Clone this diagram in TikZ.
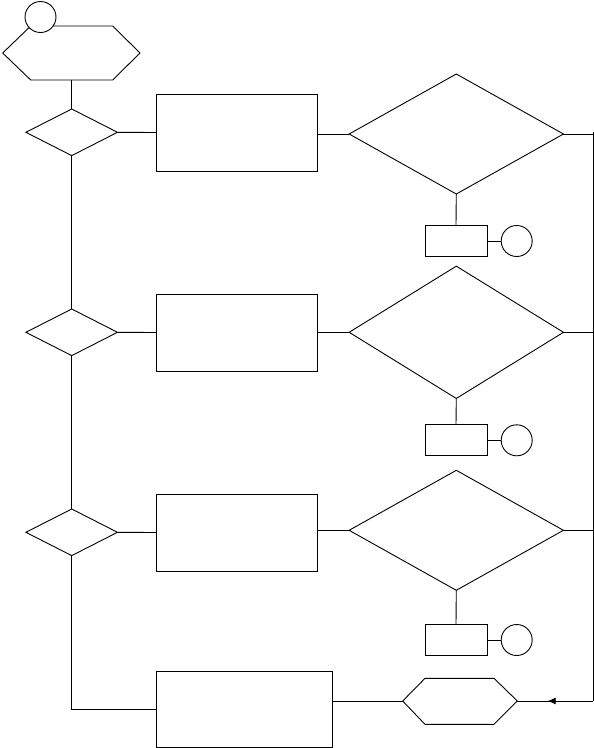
\documentclass[tikz,border=0pt]{standalone}
\usetikzlibrary{shapes.geometric,arrows.meta,decorations.markings}
\tikzset{
  ln/.style={line width=0.9pt, black},
  boxr/.style={ln, draw, rectangle, inner sep=0pt, outer sep=0pt},
  dia/.style={ln, draw, diamond, inner sep=0pt, outer sep=0pt},
  circ/.style={ln, draw, circle, fill=white, inner sep=0pt, outer sep=0pt, minimum size=31pt},
  smalldia/.style={dia, minimum width=91.6pt, minimum height=46.6pt},
  bigbox/.style={boxr, minimum width=161pt, minimum height=77pt},
  smallbox/.style={boxr, minimum width=62pt, minimum height=31pt},
  midarrow/.style={postaction={decorate}, decoration={markings,
     mark=at position 0.6 with {\arrow{Latex[length=8pt,width=7pt]}}}}
}
\begin{document}
\begin{tikzpicture}[x=1pt,y=-1pt]
\useasboundingbox (0,0) rectangle (594,748);
% top hexagon
\draw[ln] (2.7,53) coordinate (hAw) -- (30.7,26) -- (112.7,26) -- (140,53) -- (112.7,80) -- (71.7,80) coordinate (hAs) -- (30.7,80) -- cycle;
\node[circ] (c0) at (40.5,17) {};
% left column
\node[smalldia] (d1) at (71.7,132.3) {};
\node[smalldia] (d2) at (71.7,332.3) {};
\node[smalldia] (d3) at (71.7,532.3) {};
\node[bigbox] (r1) at (236.5,132.5) {};
\node[bigbox] (r2) at (236.5,332.5) {};
\node[bigbox] (r3) at (236.5,532.5) {};
% big diamonds
\node[dia, minimum width=214.3pt, minimum height=120pt] (D1) at (456.3,134) {};
\node[dia, minimum width=214.3pt, minimum height=132.3pt] (D2) at (456.3,332.3) {};
\node[dia, minimum width=214.3pt, minimum height=120pt] (D3) at (456.3,530.3) {};
% small boxes and circles
\node[smallbox] (s1) at (456,240.5) {};
\node[smallbox] (s2) at (456,440.3) {};
\node[smallbox] (s3) at (456,640) {};
\node[circ] (c1) at (516.7,241) {};
\node[circ] (c2) at (516.7,440.3) {};
\node[circ] (c3) at (516.7,640) {};
% bottom
\node[boxr, minimum width=176.7pt, minimum height=76.3pt] (r4) at (244.35,709.15) {};
\draw[ln] (402.7,701) coordinate (hBw) -- (425,678.3) -- (494,678.3) -- (517.3,701) coordinate (hBe) -- (494,724.3) -- (425,724.3) -- cycle;
\coordinate (rtop) at (593.3,132);
\coordinate (rbot) at (593.3,701);
\coordinate (lbot) at (71.7,709.5);
% connectors
\draw[ln] (hAs) -- (d1.north);
\draw[ln] (d1.south) -- (d2.north);
\draw[ln] (d2.south) -- (d3.north);
\draw[ln] (d3.south) -- (lbot) -- (lbot -| r4.west);
\draw[ln] (d1.east) -- (r1.west);
\draw[ln] (d2.east) -- (r2.west);
\draw[ln] (d3.east) -- (r3.west);
\draw[ln] (D1.west) -- (D1.west -| r1.east);
\draw[ln] (D2.west) -- (D2.west -| r2.east);
\draw[ln] (D3.west) -- (D3.west -| r3.east);
\draw[ln] (D1.south) -- (s1.north);
\draw[ln] (D2.south) -- (s2.north);
\draw[ln] (D3.south) -- (s3.north);
\draw[ln] (s1.east |- c1.west) -- (c1.west);
\draw[ln] (s2.east |- c2.west) -- (c2.west);
\draw[ln] (s3.east |- c3.west) -- (c3.west);
\draw[ln] (D1.east) -- (D1.east -| rtop);
\draw[ln] (D2.east) -- (D2.east -| rtop);
\draw[ln] (D3.east) -- (D3.east -| rtop);
\draw[ln] (rtop) -- (rbot);
\draw[ln, midarrow] (rbot) -- (hBe);
\draw[ln] (hBw) -- (hBw -| r4.east);
\end{tikzpicture}
\end{document}
